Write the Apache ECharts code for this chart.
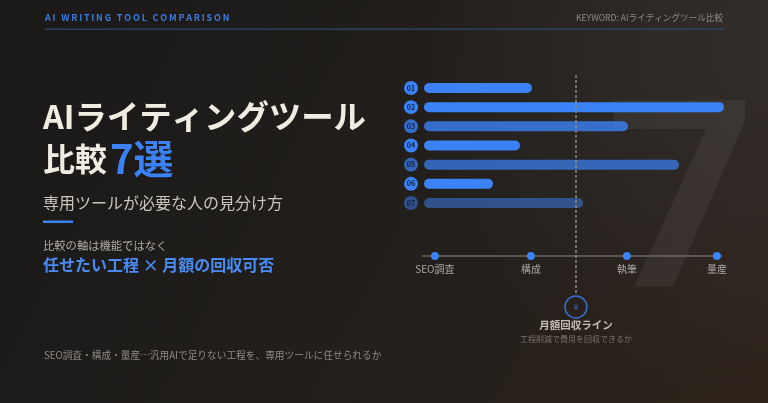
<!DOCTYPE html>
<html>
<head>
<meta charset="utf-8">
<title>AIライティングツール比較7選</title>
<script src="https://cdn.jsdelivr.net/npm/echarts@6/dist/echarts.min.js"></script>
<style>
    html, body { margin: 0; padding: 0; background: #1e1c1a; }
    #main { width: 768px; height: 403px; }
</style>
</head>
<body>
<div id="main"></div>
<script>
// ツール番号と評価（0-100）
var toolLabels = ['01', '02', '03', '04', '05', '06', '07'];
var toolScores = [36, 100, 68, 32, 85, 23, 53];
var toolOpacity = [1, 1, 0.8, 1, 0.7, 1, 0.5];

// 工程の軸
var processLabels = ['SEO調査', '構成', '執筆', '量産'];
var processPos = [4.3, 36.3, 68.3, 98.3];
var paybackPos = 51.3;

var BLUE = '#3b82f6';
var FONT = '"Noto Sans CJK JP", "Noto Sans", sans-serif';

function buildRich() {
    var rich = {};
    for (var i = 0; i < toolLabels.length; i++) {
        rich['c' + i] = {
            width: 14,
            height: 14,
            lineHeight: 14,
            borderRadius: 7,
            align: 'center',
            backgroundColor: 'rgba(59,130,246,' + toolOpacity[i] + ')',
            color: '#16233b',
            fontSize: 7,
            fontWeight: 'bold',
            fontFamily: FONT
        };
    }
    return rich;
}

function buildBars() {
    var out = [];
    for (var i = 0; i < toolScores.length; i++) {
        out.push({
            value: toolScores[i],
            itemStyle: { color: BLUE, opacity: toolOpacity[i] }
        });
    }
    return out;
}

function buildDots(trackY) {
    var out = [];
    for (var i = 0; i < processPos.length; i++) {
        out.push({ name: processLabels[i], value: [processPos[i], trackY] });
    }
    return out;
}

// 文字間を広げる（thin space）
function spaced(str) {
    return str.split('').join('\u2009');
}

function draw() {
    var myChart = echarts.init(document.getElementById('main'));
    var trackY = 181;

    var option = {
        backgroundColor: new echarts.graphic.LinearGradient(0, 0, 1, 1, [
            { offset: 0, color: '#1a1918' },
            { offset: 0.55, color: '#221f1c' },
            { offset: 1, color: '#2d2219' }
        ]),
        animation: false,
        textStyle: { fontFamily: FONT },
        grid: [
            // 棒グラフ
            { left: 424, width: 300, top: 78.4, height: 134.2 },
            // 工程ライン
            { left: 422, width: 300, top: 75, height: 270 }
        ],
        xAxis: [
            { gridIndex: 0, type: 'value', min: 0, max: 100, show: false },
            { gridIndex: 1, type: 'value', min: 0, max: 100, show: false }
        ],
        yAxis: [
            {
                gridIndex: 0,
                type: 'category',
                inverse: true,
                data: toolLabels,
                axisLine: { show: false },
                axisTick: { show: false },
                splitLine: { show: false },
                axisLabel: {
                    margin: 6,
                    formatter: function (v, idx) {
                        return '{c' + idx + '|' + v + '}';
                    },
                    rich: buildRich()
                }
            },
            { gridIndex: 1, type: 'value', inverse: true, min: 0, max: 270, show: false }
        ],
        series: [
            {
                type: 'bar',
                xAxisIndex: 0,
                yAxisIndex: 0,
                barWidth: 10,
                itemStyle: { borderRadius: 5 },
                data: buildBars(),
                z: 3
            },
            {
                // 工程の線
                type: 'line',
                xAxisIndex: 1,
                yAxisIndex: 1,
                symbol: 'none',
                lineStyle: { color: '#6a6866', width: 1.5 },
                data: [[0, trackY], [100, trackY]],
                // 月額回収ライン
                markLine: {
                    silent: true,
                    symbol: 'none',
                    label: { show: false },
                    lineStyle: { color: '#8c8a88', width: 1.5, type: [3, 2] },
                    data: [[{ coord: [paybackPos, 0] }, { coord: [paybackPos, 220] }]]
                },
                z: 1
            },
            {
                type: 'scatter',
                xAxisIndex: 1,
                yAxisIndex: 1,
                symbolSize: 8,
                itemStyle: { color: BLUE, opacity: 1 },
                label: {
                    show: true,
                    position: 'bottom',
                    distance: 4,
                    formatter: '{b}',
                    color: '#a9a6a1',
                    fontSize: 10,
                    fontFamily: FONT
                },
                data: buildDots(trackY),
                z: 4
            },
            {
                type: 'scatter',
                xAxisIndex: 1,
                yAxisIndex: 1,
                data: [
                    {
                        value: [paybackPos, 232],
                        symbolSize: 22,
                        itemStyle: { color: 'rgba(0,0,0,0)', borderColor: BLUE, borderWidth: 1.5 },
                        label: { show: true, position: 'inside', formatter: '¥', color: BLUE, fontSize: 8 }
                    },
                    {
                        value: [paybackPos, 257],
                        symbolSize: 0,
                        label: {
                            show: true,
                            position: 'inside',
                            formatter: '{t|月額回収ライン}\n{s|工程削減で費用を回収できるか}',
                            rich: {
                                t: { fontSize: 10.5, fontWeight: 'bold', color: '#e6e2da', lineHeight: 14, fontFamily: FONT },
                                s: { fontSize: 8, color: '#8e8983', lineHeight: 13, fontFamily: FONT }
                            }
                        }
                    }
                ],
                z: 4
            }
        ],
        graphic: [
            // 右上の明るい部分
            {
                type: 'rect', z: -10, silent: true,
                shape: { x: 0, y: 0, width: 768, height: 403 },
                style: {
                    fill: new echarts.graphic.RadialGradient(1, 0.1, 0.9, [
                        { offset: 0, color: 'rgba(70,70,76,0.35)' },
                        { offset: 1, color: 'rgba(70,70,76,0)' }
                    ])
                }
            },
            // 背景の大きな7
            {
                type: 'text', z: -5, silent: true,
                style: {
                    x: 681, y: 221, text: '7',
                    font: 'bold 262px Roboto, sans-serif',
                    fill: 'rgba(255,255,255,0.055)',
                    align: 'center', verticalAlign: 'middle'
                }
            },
            // ヘッダー
            {
                type: 'text',
                style: {
                    x: 45, y: 18, text: spaced('AI WRITING TOOL COMPARISON'),
                    font: 'bold 9px ' + FONT, fill: '#3b7be0',
                    verticalAlign: 'middle'
                }
            },
            {
                type: 'text',
                style: {
                    x: 723, y: 18, text: 'KEYWORD: AIライティングツール比較',
                    font: '8.6px ' + FONT, fill: '#8c8a88',
                    align: 'right', verticalAlign: 'middle'
                }
            },
            {
                type: 'rect', silent: true,
                shape: { x: 45, y: 28.5, width: 678, height: 1.2 },
                style: { fill: '#2e4873' }
            },
            // タイトル
            {
                type: 'text',
                style: {
                    x: 43, y: 117, text: 'AIライティングツール',
                    font: 'bold 32.4px ' + FONT, fill: '#f1ece2',
                    verticalAlign: 'middle'
                }
            },
            {
                type: 'text',
                style: {
                    x: 43, y: 159,
                    text: '{a|比較}{b|7選}',
                    verticalAlign: 'middle',
                    rich: {
                        a: { fontSize: 32, fontWeight: 'bold', fill: '#f1ece2', fontFamily: FONT },
                        b: { fontSize: 40, fontWeight: 'bold', fill: '#3b82f6', fontFamily: FONT, padding: [0, 0, 0, 3] }
                    }
                }
            },
            {
                type: 'text',
                style: {
                    x: 43, y: 203, text: '専用ツールが必要な人の見分け方',
                    font: '16px ' + FONT, fill: '#c9c5be',
                    verticalAlign: 'middle'
                }
            },
            {
                type: 'rect', silent: true,
                shape: { x: 43, y: 220.5, width: 30, height: 2.5 },
                style: { fill: BLUE }
            },
            {
                type: 'text',
                style: {
                    x: 43, y: 246, text: '比較の軸は機能ではなく',
                    font: '11.3px ' + FONT, fill: '#aeaaa4',
                    verticalAlign: 'middle'
                }
            },
            {
                type: 'text',
                style: {
                    x: 43, y: 265, text: '任せたい工程 × 月額の回収可否',
                    font: 'bold 16px ' + FONT, fill: '#4a8cf5',
                    verticalAlign: 'middle'
                }
            },
            // フッター
            {
                type: 'text',
                style: {
                    x: 44, y: 355, text: 'SEO調査・構成・量産…汎用AIで足りない工程を、専用ツールに任せられるか',
                    font: '9.7px ' + FONT, fill: '#8e8a84',
                    verticalAlign: 'middle'
                }
            }
        ]
    };
    myChart.setOption(option);
}

draw();
</script>
</body>
</html>
